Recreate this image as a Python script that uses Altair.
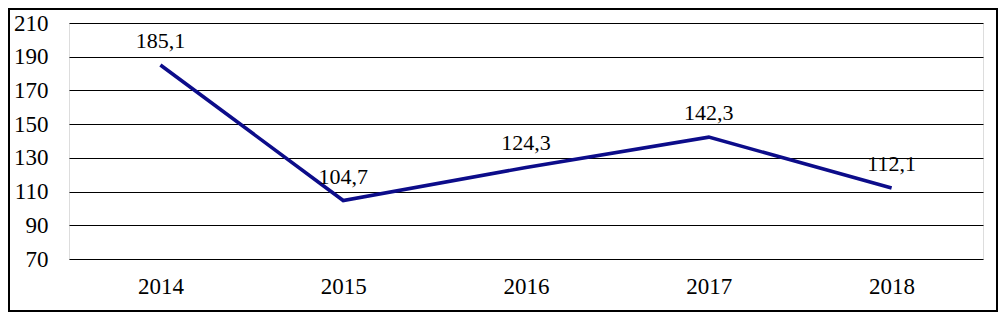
import altair as alt
import pandas as pd

years = ["2014", "2015", "2016", "2017", "2018"]
values = [185.1, 104.7, 124.3, 142.3, 112.1]
labels = ["185,1", "104,7", "124,3", "142,3", "112,1"]
y_ticks = [70, 90, 110, 130, 150, 170, 190, 210]

df = pd.DataFrame({"year": years, "value": values, "label": labels})

FONT = "Liberation Serif"
NAVY = "#0c0c8a"

x_enc = alt.X("year:N", sort=years, title=None,
              scale=alt.Scale(type="point", padding=0.5),
              axis=alt.Axis(labelAngle=0, labelFont=FONT, labelFontSize=23,
                            labelColor="#000", labelPadding=16, ticks=False,
                            tickSize=0, domain=False, grid=False,
                            labelOverlap=False))
y_enc = alt.Y("value:Q", title=None,
              scale=alt.Scale(domain=[70, 210], nice=False, zero=False),
              axis=alt.Axis(values=y_ticks, tickCount=len(y_ticks),
                            labelFont=FONT, labelFontSize=23,
                            labelColor="#000", labelPadding=21, ticks=False,
                            tickSize=0, domain=False, grid=True,
                            labelOverlap=False, labelFlush=False,
                            gridColor="#000", gridWidth=1.2, gridOpacity=1))

line = alt.Chart(df).mark_line(color=NAVY, strokeWidth=3.6, strokeCap="butt",
                               strokeJoin="miter").encode(x=x_enc, y=y_enc)

text = alt.Chart(df).mark_text(font=FONT, fontSize=22, color="#000",
                               baseline="alphabetic", dy=-17).encode(
    x=alt.X("year:N", sort=years), y=alt.Y("value:Q"), text="label:N")

border = alt.Chart(pd.DataFrame({"k": [0]})).mark_rect(
    fill=None, stroke="#000", strokeWidth=2).encode(
    x=alt.value(-60), x2=alt.value(928), y=alt.value(-14), y2=alt.value(288))

chart = alt.layer(line, text, border).properties(
    width=914, height=236,
    autosize=alt.AutoSizeParams(type="none"),
    padding={"left": 61, "top": 15, "right": 15, "bottom": 54},
).configure_view(stroke=None).configure(background="#ffffff", font=FONT)

chart.save("out.html", embed_options={"renderer": "svg", "actions": False})
